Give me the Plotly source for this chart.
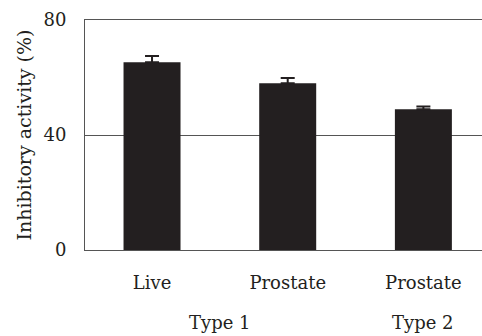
import plotly.graph_objects as go

categories = ["Live", "Prostate", "Prostate "]
values = [65.3, 58.0, 49.0]
errors = [2.2, 1.8, 0.9]
group_labels = ["Type 1", "Type 2"]
group_pos = [0.5, 2]
y_ticks = [0, 40, 80]

FONT = "DejaVu Serif"
INK = "#231f20"

fig = go.Figure()
fig.add_trace(go.Bar(
    x=list(range(len(categories))),
    y=values,
    marker=dict(color=INK, line=dict(width=0)),
    width=0.42,
    error_y=dict(type="data", array=errors, arrayminus=[0]*len(errors), symmetric=False,
                 color=INK, thickness=2, width=7),
))

for lab, pos in zip(group_labels, group_pos):
    fig.add_annotation(x=pos, xref="x", y=-0.317, yref="paper", text=lab, showarrow=False,
                       yanchor="middle", font=dict(family=FONT, size=18, color=INK))

fig.update_layout(
    width=482, height=336,
    margin=dict(l=85, r=0, t=20, b=86),
    plot_bgcolor="white", paper_bgcolor="white",
    showlegend=False,
    font=dict(family=FONT, size=18, color=INK),
    xaxis=dict(
        range=[-0.494, 2.432], automargin=False,
        tickvals=list(range(len(categories))),
        ticktext=[c.strip() for c in categories],
        showline=True, linecolor="#555", linewidth=1, mirror=True,
        showgrid=False, ticks="", ticklabelstandoff=16,
        tickfont=dict(family=FONT, size=18, color=INK),
    ),
    yaxis=dict(
        range=[0, 80], tickvals=y_ticks, automargin=False,
        showline=True, linecolor="#555", linewidth=1,
        showgrid=True, gridcolor="#555", gridwidth=1,
        zeroline=False, ticks="", ticklabelstandoff=14,
        tickfont=dict(family=FONT, size=18, color=INK),
        title=dict(text="Inhibitory activity (%)", font=dict(family=FONT, size=19, color=INK), standoff=6),
    ),
)

fig.write_html("out.html", config={"displayModeBar": False},
               post_script="document.body.style.margin='0';document.body.style.overflow='hidden';")
